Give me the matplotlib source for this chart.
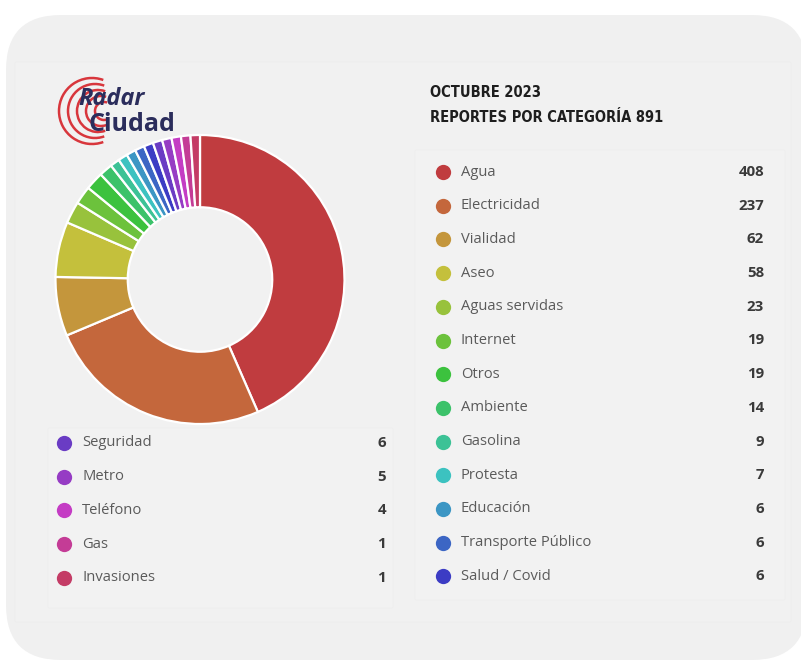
import matplotlib
matplotlib.use("Agg")
import matplotlib.pyplot as plt
from matplotlib.patches import FancyBboxPatch, Arc
import numpy as np

# ---------------- data ----------------
categories = ["Agua", "Electricidad", "Vialidad", "Aseo", "Aguas servidas", "Internet",
              "Otros", "Ambiente", "Gasolina", "Protesta", "Educación", "Transporte Público",
              "Salud / Covid", "Seguridad", "Metro", "Teléfono", "Gas", "Invasiones"]
values = [408, 237, 62, 58, 23, 19, 19, 14, 9, 7, 6, 6, 6, 6, 5, 4, 1, 1]
colors = ["#c03c3f", "#c4673c", "#c4963c", "#c4c03c", "#98c23c", "#6cc23c",
          "#3cc23e", "#3cc26a", "#3cc296", "#3cc2c0", "#3c96c4", "#3c66c4",
          "#3c3cc4", "#6a3cc4", "#963cc4", "#c43cc4", "#c43c96", "#c43c66"]
title_line1 = "OCTUBRE 2023"
title_line2 = "REPORTES POR CATEGORÍA 891"
n_right = 13  # categories listed in right column, rest below the donut

W, H = 801, 660
fig = plt.figure(figsize=(W / 100, H / 100), dpi=100)
fig.patch.set_facecolor("white")

# full-figure axes in pixel coordinates
bg = fig.add_axes([0, 0, 1, 1])
bg.set_xlim(0, W)
bg.set_ylim(H, 0)
bg.axis("off")

card = FancyBboxPatch((6, 15), 801, 645, boxstyle="round,pad=0,rounding_size=55",
                      facecolor="#f0f0f0", edgecolor="none", zorder=0)
bg.add_patch(card)
# very subtle inner panels
bg.add_patch(FancyBboxPatch((15, 62), 776, 560, boxstyle="round,pad=0,rounding_size=1",
                            facecolor="#f1f1f1", edgecolor="#ededed", lw=0.5, zorder=0.5))
bg.add_patch(FancyBboxPatch((415, 150), 370, 450, boxstyle="round,pad=0,rounding_size=1",
                            facecolor="#f2f2f2", edgecolor="#eeeeee", lw=0.5, zorder=0.6))
bg.add_patch(FancyBboxPatch((48, 428), 345, 180, boxstyle="round,pad=0,rounding_size=1",
                            facecolor="#f2f2f2", edgecolor="#eeeeee", lw=0.5, zorder=0.6))

# ---------------- logo ----------------
for r, cx in zip([33, 27, 21, 15, 9], [92, 95, 98, 101, 104]):
    bg.add_patch(Arc((cx, 111), 2 * r, 2 * r, theta1=70, theta2=290,
                     color="#d8363c", lw=1.8, zorder=2))
bg.text(78, 105, "Radar", fontsize=17, fontweight="bold", fontstyle="italic",
        family=["Open Sans", "DejaVu Sans"], color="#2b2d5c", zorder=3)
bg.text(89, 131, "Ciudad", fontsize=18, fontweight="bold",
        family=["Open Sans", "DejaVu Sans"], color="#2b2d5c", zorder=3)

# ---------------- title ----------------
tfam = ["DejaVu Sans"]
bg.text(430, 97, title_line1, fontsize=10.5, fontweight="bold", family=tfam,
        fontstretch="condensed", color="#1e1e1e", va="baseline")
bg.text(430, 122, title_line2, fontsize=10.5, fontweight="bold", family=tfam,
        fontstretch="condensed", color="#1e1e1e", va="baseline")

# ---------------- legends ----------------
lfam = ["Open Sans", "DejaVu Sans"]

def legend_rows(cats, vals, cols, x_dot, x_val, y0, dy):
    for i, (c, v, col) in enumerate(zip(cats, vals, cols)):
        y = y0 + i * dy
        bg.plot(x_dot, y, "o", ms=11, color=col, mec="none", zorder=3)
        bg.text(x_dot + 18, y, c, fontsize=10.6, family=lfam, color="#5a5a5a",
                va="center", ha="left")
        bg.text(x_val, y, str(v), fontsize=10.8, family=lfam, fontweight="bold",
                color="#3a3a3a", va="center", ha="right")

legend_rows(categories[:n_right], values[:n_right], colors[:n_right],
            443, 764, 172, 33.7)
legend_rows(categories[n_right:], values[n_right:], colors[n_right:],
            64, 386, 443, 33.7)

# ---------------- donut ----------------
# emulate a minimum slice angle as in the original widget
total = float(sum(values))
min_share = 3.8 / 360.0
shares = np.array(values, dtype=float) / total
fixed = np.zeros(len(shares), dtype=bool)
disp = shares.copy()
for _ in range(20):
    fixed = fixed | (disp < min_share)
    free = 1.0 - min_share * fixed.sum()
    disp = np.where(fixed, min_share, shares / shares[~fixed].sum() * free)

cx, cy, R = 200, 279.5, 144.5
half = 1.04 * R
pax = fig.add_axes([(cx - half) / W, (H - cy - half) / H, 2 * half / W, 2 * half / H])
pax.pie(disp, colors=colors, startangle=90, counterclock=False,
        wedgeprops=dict(width=0.5, edgecolor="white", linewidth=1.6))
pax.set_xlim(-1.04, 1.04)
pax.set_ylim(-1.04, 1.04)
pax.set_aspect("equal")
pax.axis("off")

fig.savefig("out.png", dpi=100, facecolor="white")
